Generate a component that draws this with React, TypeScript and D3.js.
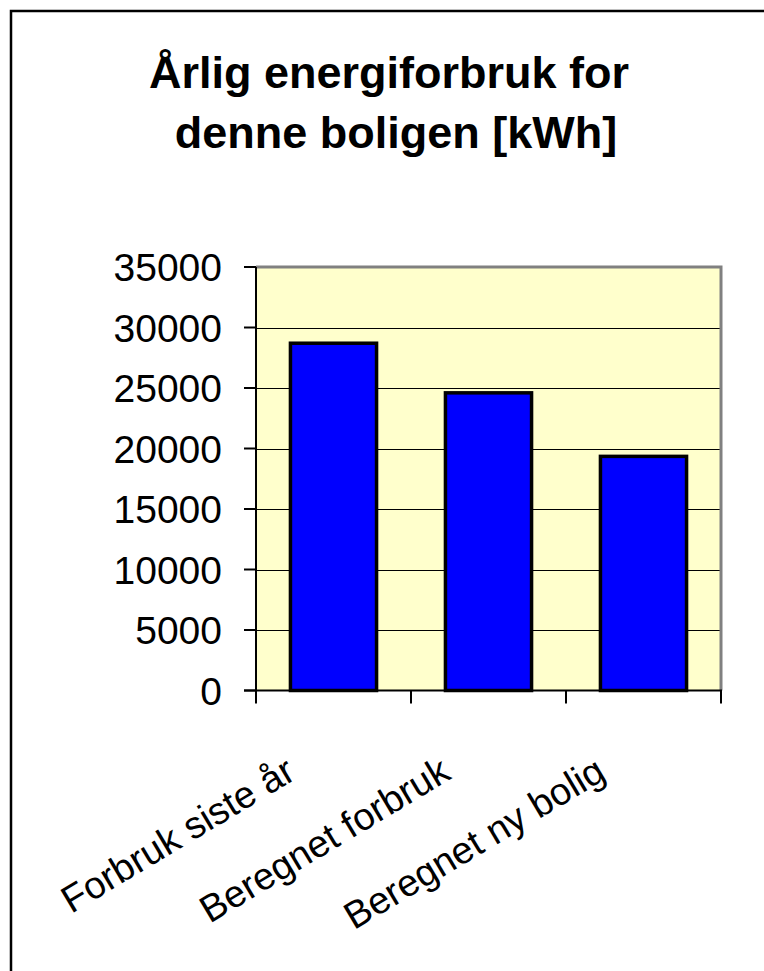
import React from 'react'
import * as d3 from 'd3'

// chart values
const categories = ['Forbruk siste år', 'Beregnet forbruk', 'Beregnet ny bolig']
const values = [28700, 24600, 19350]
const yTicks = [0, 5000, 10000, 15000, 20000, 25000, 30000, 35000]
const titleLines = ['Årlig energiforbruk for', 'denne boligen [kWh]']

const W = 764
const H = 971
const FONT = "'Liberation Sans', Arial, sans-serif"

const App = () => {
    // plot area
    const left = 256
    const right = 721
    const top = 267
    const bottom = 690.5

    const y = d3.scaleLinear().domain([0, 35000]).range([bottom, top])
    const x = d3.scaleBand<string>()
        .domain(categories)
        .range([left, right])
        .paddingInner(0.8 / 1.8)
        .paddingOuter(0.4 / 1.8)

    const step = x.step()
    const edges = d3.range(categories.length + 1).map(i => left + i * step)

    return (
        <svg width={W} height={H} style={{ position: 'absolute', left: 0, top: 0, background: '#fff' }}>
            {/* outer frame: left and top only */}
            <polyline points={`11,${H} 11,11 ${W},11`} fill="none" stroke="#000" strokeWidth={2.5} />

            {/* title (second line sits a little to the right, as in the original) */}
            <g fontFamily={FONT} fontWeight="bold" fontSize={45} textAnchor="middle">
                {titleLines.map((t, i) => (
                    <text key={t} x={389 + i * 7} y={88 + i * 60}>{t}</text>
                ))}
            </g>

            {/* plot background */}
            <rect x={left} y={top} width={right - left} height={bottom - top} fill="#FFFFCC" />

            {/* gridlines */}
            {yTicks.filter(v => v > 0 && v < 35000).map(v => (
                <line key={v} x1={left} x2={right} y1={Math.round(y(v)) + 0.5} y2={Math.round(y(v)) + 0.5} stroke="#000" strokeWidth={1} />
            ))}

            {/* plot border top + right */}
            <polyline points={`${left},${top} ${right},${top} ${right},${bottom}`} fill="none" stroke="#808080" strokeWidth={3} />

            {/* bars */}
            {categories.map((c, i) => (
                <rect key={c}
                    x={x(c)}
                    y={y(values[i])}
                    width={x.bandwidth()}
                    height={bottom - y(values[i])}
                    fill="#0000FF"
                    stroke="#000"
                    strokeWidth={3.5} />
            ))}

            {/* y axis */}
            <line x1={left} x2={left} y1={top} y2={bottom} stroke="#000" strokeWidth={2} />
            {yTicks.map(v => (
                <line key={v} x1={left - 12} x2={left} y1={y(v)} y2={y(v)} stroke="#000" strokeWidth={2} />
            ))}
            <g fontFamily={FONT} fontSize={39} textAnchor="end">
                {yTicks.map(v => (
                    <text key={v} x={222} y={y(v)} dy="0.36em">{v}</text>
                ))}
            </g>

            {/* x axis */}
            <line x1={left - 12} x2={right + 1} y1={bottom} y2={bottom} stroke="#000" strokeWidth={2} />
            {edges.map((e, i) => (
                <line key={i} x1={e} x2={e} y1={bottom} y2={bottom + 13} stroke="#000" strokeWidth={2} />
            ))}
            <g fontFamily={FONT} fontSize={38} textAnchor="end">
                {categories.map(c => {
                    const cx = (x(c) ?? 0) + x.bandwidth() / 2 - 36
                    const cy = 778
                    return (
                        <text key={c} x={cx} y={cy} transform={`rotate(-31 ${cx} ${cy})`}>{c}</text>
                    )
                })}
            </g>
        </svg>
    )
}

export default App
